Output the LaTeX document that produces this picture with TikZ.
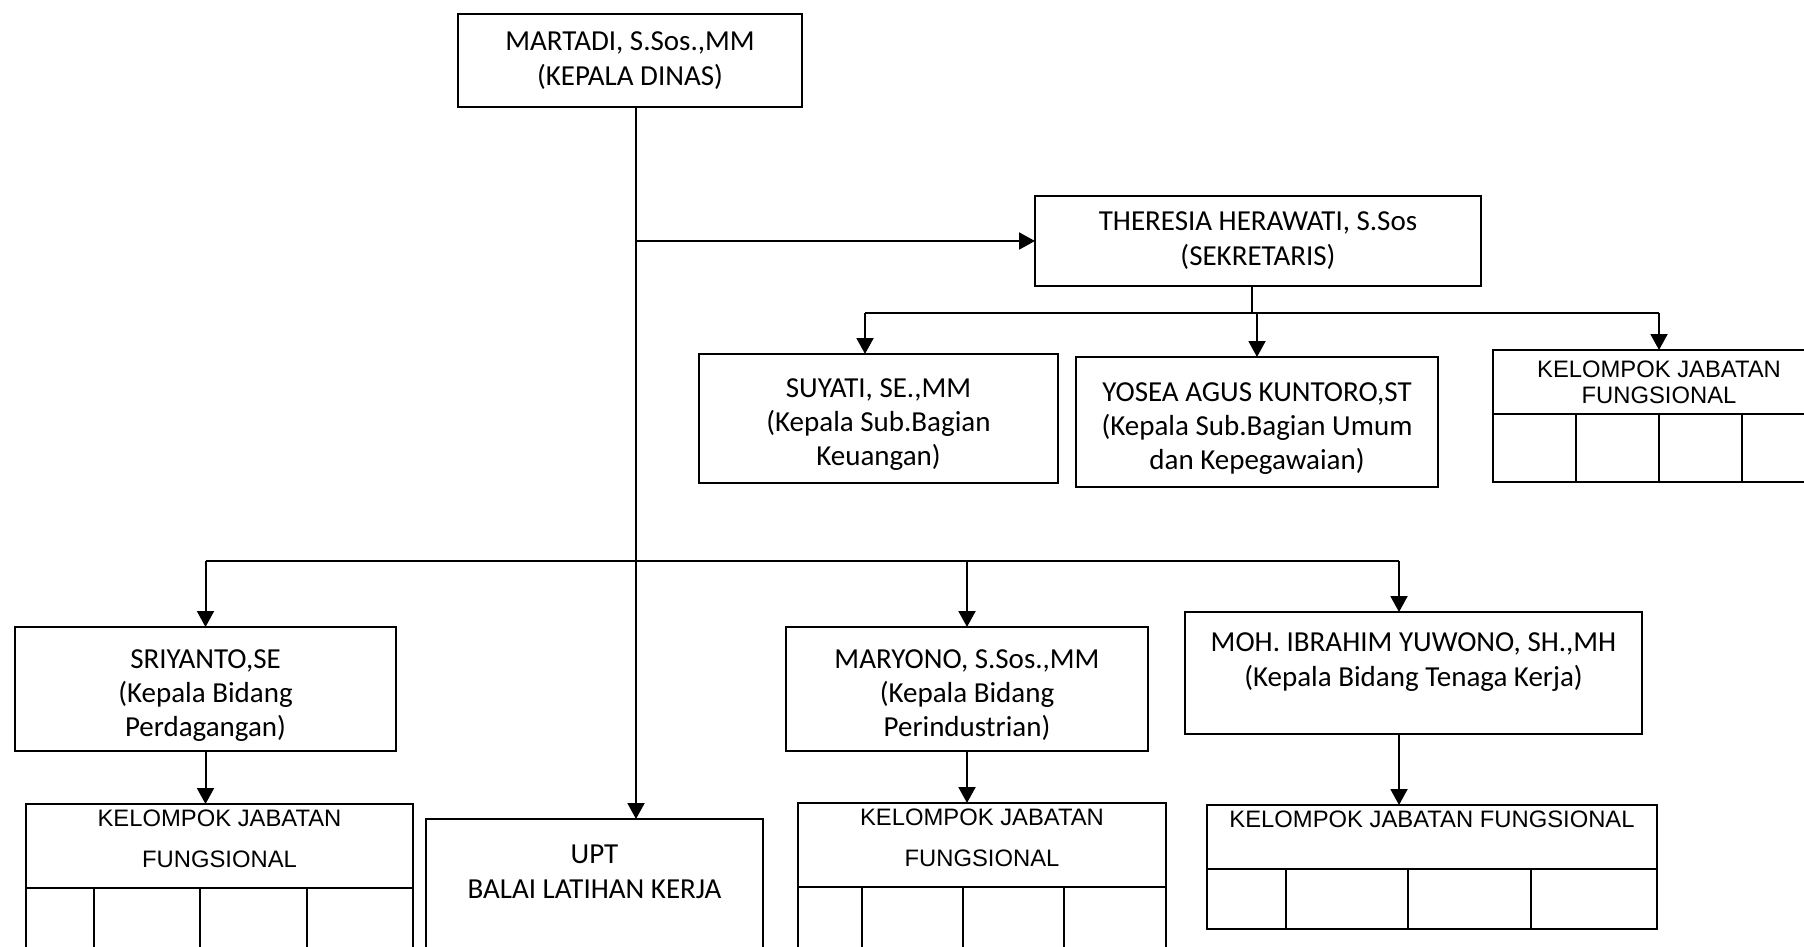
\documentclass[tikz,border=0pt]{standalone}
\usepackage{fontspec}
\setmainfont{Carlito}
\newfontfamily\arialfont{Liberation Sans}
\usetikzlibrary{arrows.meta}

\begin{document}
\begin{tikzpicture}
  [x=0.5pt, y=-0.5pt,
  every node/.style={draw, rectangle, anchor=north west, inner sep=0pt, outer sep=0pt, align=center, line width=1pt},
  jabatan/.style={font=\fontsize{14.5}{17.5}\selectfont},
  tigabaris/.style={font=\fontsize{14.5}{17}\selectfont, text height=49.5pt},
  kjf/.style={font=\arialfont\fontsize{11.9}{20.5}\selectfont, line width=1.3pt},
  sel/.style={line width=1.3pt},
  garis/.style={line width=1pt},
  panah/.style={-{Triangle[width=8.5pt,length=8pt]}, line width=1pt}]
  \useasboundingbox (0,0) rectangle (1804,947);
  \clip (0,0) rectangle (1804,947);

  % pimpinan
  \node[jabatan, minimum width=172pt, minimum height=46.5pt] (kadis) at (458,14)
    {MARTADI, S.Sos.,MM\\(KEPALA DINAS)};
  \node[jabatan, minimum width=223pt, minimum height=45pt] (sek) at (1035,196)
    {THERESIA HERAWATI, S.Sos\\(SEKRETARIS)};

  % sekretariat
  \node[tigabaris, minimum width=179.5pt, minimum height=64.5pt] (suyati) at (699,354)
    {SUYATI, SE.,MM\\(Kepala Sub.Bagian\\Keuangan)};
  \node[tigabaris, minimum width=181pt, minimum height=65pt] (yosea) at (1076,357)
    {YOSEA AGUS KUNTORO,ST\\(Kepala Sub.Bagian Umum\\dan Kepegawaian)};
  \node[kjf, font=\arialfont\fontsize{11.9}{13}\selectfont, minimum width=166pt, minimum height=32pt] (kjfA) at (1493,350)
    {KELOMPOK JABATAN\\FUNGSIONAL};
  \draw[sel] (kjfA.south west) rectangle ++(332,68);
  \foreach \dx in {83,166,249}
    \draw[sel] (kjfA.south west) ++(\dx,0) -- ++(0,68);

  % bidang
  \node[tigabaris, minimum width=190.5pt, minimum height=62pt] (sriyanto) at (15,627)
    {SRIYANTO,SE\\(Kepala Bidang\\Perdagangan)};
  \node[tigabaris, minimum width=181pt, minimum height=62pt] (maryono) at (786,627)
    {MARYONO, S.Sos.,MM\\(Kepala Bidang\\Perindustrian)};
  \node[jabatan, text height=48.5pt, minimum width=228.5pt, minimum height=61pt] (moh) at (1185,612)
    {MOH. IBRAHIM YUWONO, SH.,MH\\(Kepala Bidang Tenaga Kerja)\\~};
  \node[jabatan, text height=69pt, minimum width=168.5pt, minimum height=80pt] (upt) at (426,819)
    {UPT\\BALAI LATIHAN KERJA\\~\\~};

  % kelompok jabatan fungsional
  \node[kjf, text depth=7pt, minimum width=193.5pt, minimum height=42pt] (kjfL) at (26,804)
    {KELOMPOK JABATAN\\FUNGSIONAL};
  \draw[sel] (kjfL.south west) rectangle ++(387,80);
  \foreach \dx in {68,174,281}
    \draw[sel] (kjfL.south west) ++(\dx,0) -- ++(0,80);

  \node[kjf, text depth=7pt, minimum width=184pt, minimum height=42pt] (kjfM) at (798,803)
    {KELOMPOK JABATAN\\FUNGSIONAL};
  \draw[sel] (kjfM.south west) rectangle ++(368,80);
  \foreach \dx in {64,165,266}
    \draw[sel] (kjfM.south west) ++(\dx,0) -- ++(0,80);

  \node[kjf, font=\arialfont\fontsize{11.9}{18}\selectfont, minimum width=225pt, minimum height=32pt] (kjfR) at (1207,805)
    {KELOMPOK JABATAN FUNGSIONAL\\~};
  \draw[sel] (kjfR.south west) rectangle ++(450,60);
  \foreach \dx in {79,201,324}
    \draw[sel] (kjfR.south west) ++(\dx,0) -- ++(0,60);

  % garis komando
  \coordinate (spine) at (636,561);
  \coordinate (rel) at (0,313);
  \draw[panah] (kadis.south -| spine) -- (upt.north -| spine);
  \draw[panah] (sek.west -| spine) -- (sek.west);
  \draw[garis] ([xshift=-3pt]sek.south) -- ([xshift=-3pt]sek.south |- rel);
  \draw[garis] ([xshift=-6.75pt]suyati.north |- rel) -- (kjfA.north |- rel);
  \draw[panah] ([xshift=-6.75pt]suyati.north |- rel) -- ([xshift=-6.75pt]suyati.north);
  \foreach \t in {yosea,kjfA}
    \draw[panah] (\t.north |- rel) -- (\t.north);

  \draw[garis] (sriyanto.north |- spine) -- ([xshift=-7.25pt]moh.north |- spine);
  \foreach \t in {sriyanto,maryono}
    \draw[panah] (\t.north |- spine) -- (\t.north);
  \draw[panah] ([xshift=-7.25pt]moh.north |- spine) -- ([xshift=-7.25pt]moh.north);

  \draw[panah] (sriyanto.south) -- (sriyanto.south |- kjfL.north);
  \draw[panah] (maryono.south) -- (maryono.south |- kjfM.north);
  \draw[panah] ([xshift=-7.25pt]moh.south) -- ([xshift=-7.25pt]moh.south |- kjfR.north);
\end{tikzpicture}
\end{document}
